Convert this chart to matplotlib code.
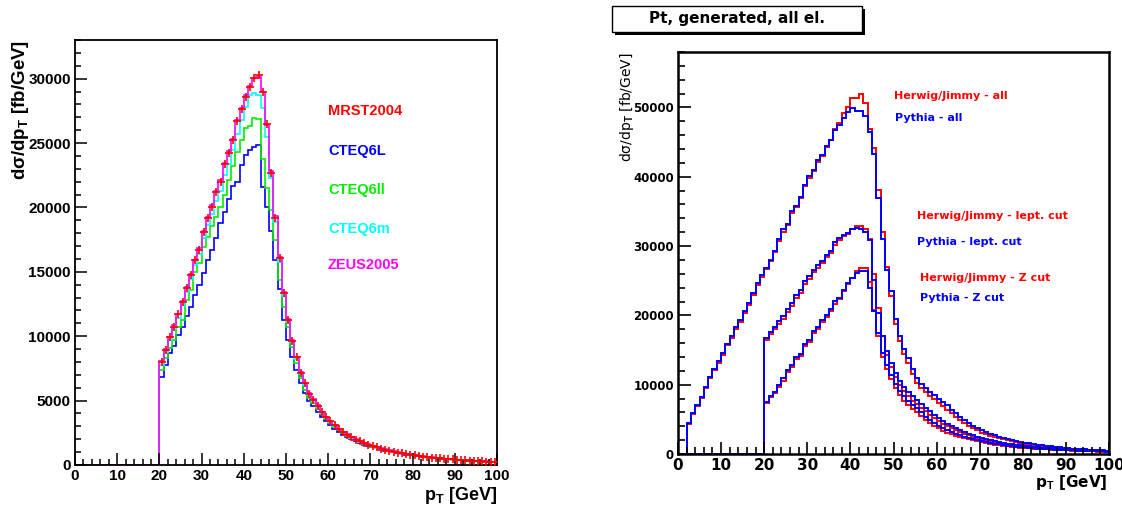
import numpy as np
import matplotlib
matplotlib.use('Agg')
import matplotlib.pyplot as plt
from matplotlib.ticker import MultipleLocator
from matplotlib.patches import Rectangle

W, H = 1122, 512
plt.rcParams['font.family'] = ['Liberation Sans', 'DejaVu Sans']
plt.rcParams['font.weight'] = 'bold'
plt.rcParams['mathtext.fontset'] = 'custom'
plt.rcParams['mathtext.rm'] = 'Liberation Sans:bold'
plt.rcParams['mathtext.it'] = 'Liberation Sans:bold'
plt.rcParams['mathtext.bf'] = 'Liberation Sans:bold'

# ---------------- data ----------------
pt_edges = np.arange(0, 101, 1)   # 1 GeV bins, 0..100 GeV

# Left panel (PDF sets), bins 0..99
mrst2004 = [0] * 20 + [
    7980, 8935, 9920, 10750, 11700, 12640, 13730, 14760, 15900, 16700,
    18120, 19190, 20050, 21210, 21990, 23390, 24240, 25250, 26730, 27660,
    28600, 29370, 30070, 30300, 28930, 26500, 22690, 19190, 16070, 13340,
    11270, 9660, 8370, 7170, 6350, 5520, 5050, 4600, 4100, 3700,
    3380, 3080, 2800, 2560, 2340, 2150, 1980, 1830, 1700, 1580,
    1470, 1370, 1280, 1190, 1110, 1040, 970, 910, 850, 800,
    750, 700, 660, 620, 580, 545, 515, 485, 455, 430,
    405, 380, 360, 340, 320, 300, 285, 270, 255, 240]
cteq6l = [0] * 20 + [
    6860, 7770, 8680, 9250, 10100, 10750, 11580, 12300, 13210, 14000,
    14900, 15900, 16700, 17610, 18780, 19680, 20640, 21630, 22010, 23310,
    24090, 24480, 24690, 24860, 21600, 20000, 18200, 15930, 13650, 11270,
    9710, 8420, 7380, 6350, 5570, 4950, 4550, 4150, 3750, 3400,
    3100, 2830, 2580, 2360, 2170, 2000, 1850, 1710, 1590, 1480,
    1380, 1290, 1200, 1120, 1050, 980, 920, 860, 810, 760,
    710, 670, 630, 590, 555, 520, 490, 460, 435, 410,
    385, 365, 345, 325, 305, 290, 275, 260, 245, 230]
cteq6ll = [0] * 20 + [
    7380, 8290, 9070, 9710, 10750, 11270, 12820, 13600, 15020, 15670,
    16960, 17740, 18520, 19290, 20070, 20980, 22140, 23180, 24340, 25250,
    26160, 26290, 26940, 26860, 23750, 21500, 19800, 17480, 14370, 12300,
    10750, 9190, 7900, 6740, 5830, 5200, 4780, 4380, 3950, 3560,
    3260, 2970, 2700, 2470, 2260, 2080, 1910, 1770, 1640, 1530,
    1420, 1320, 1230, 1150, 1070, 1000, 935, 875, 820, 770,
    720, 675, 635, 595, 560, 525, 495, 465, 440, 415,
    390, 365, 345, 325, 305, 290, 275, 260, 245, 230]
cteq6m = [0] * 20 + [
    7800, 8750, 9700, 10550, 11450, 12400, 13450, 14450, 15500, 16400,
    17600, 18600, 19500, 20500, 21300, 22550, 23400, 24450, 25700, 26800,
    27800, 28750, 28900, 28750, 27700, 25500, 22300, 18900, 15800, 13150,
    11100, 9550, 8250, 7100, 6250, 5450, 4980, 4520, 4050, 3650,
    3340, 3040, 2770, 2530, 2310, 2120, 1950, 1800, 1680, 1560,
    1450, 1350, 1260, 1170, 1090, 1020, 950, 890, 830, 780,
    730, 690, 650, 610, 570, 540, 505, 475, 450, 425,
    400, 375, 355, 335, 315, 295, 280, 265, 250, 235]
zeus2005 = [0] * 20 + [
    8050, 9000, 9950, 10850, 11750, 12750, 13800, 14850, 15950, 16850,
    18200, 19250, 20150, 21300, 22100, 23450, 24350, 25350, 26800, 27750,
    28700, 29450, 30050, 30100, 28950, 26400, 22800, 19300, 16150, 13400,
    11350, 9700, 8400, 7250, 6400, 5600, 5100, 4650, 4150, 3750,
    3420, 3110, 2830, 2590, 2370, 2170, 2000, 1850, 1720, 1600,
    1490, 1390, 1300, 1210, 1130, 1060, 990, 930, 870, 820,
    770, 720, 680, 640, 600, 565, 530, 500, 470, 445,
    420, 395, 375, 355, 335, 315, 300, 285, 270, 255]

# Right panel (generators), bins 0..99
pythia_all = [0] * 2 + [
    4520, 5880, 7080, 8280, 9730, 11080, 12240, 13440,
    14550, 15900, 17050, 18310, 19360, 20560, 21780, 23220, 24670, 25870,
    26840, 28030, 29230, 31020, 32470, 33240, 35020, 35840, 37090, 38870,
    40080, 40940, 42390, 43210, 44410, 45280, 46720, 47400, 48510, 49320,
    49960, 49470, 49470, 48740, 46430, 43350, 36990, 31000, 26590, 23460,
    19500, 17000, 15200, 13800, 12200, 10900, 10100, 9500, 9000, 8500,
    8000, 7500, 7000, 6400, 5900, 5400, 4900, 4500, 4100, 3750,
    3400, 3150, 2900, 2700, 2500, 2330, 2170, 2020, 1880, 1750,
    1630, 1520, 1420, 1330, 1240, 1160, 1090, 1020, 960, 900,
    840, 790, 740, 700, 660, 620, 590, 560, 530, 500]
herwig_all = [0] * 2 + [
    4400, 5800, 6900, 8100, 9500, 10900, 12100, 13200,
    14300, 15700, 16800, 18000, 19100, 20300, 21500, 22900, 24400, 25600,
    26700, 27900, 29100, 30800, 32100, 33000, 34800, 35600, 36900, 38700,
    39800, 40800, 42200, 43000, 44300, 45300, 46900, 47800, 49230, 50100,
    51400, 51300, 51880, 50680, 46820, 44180, 38050, 32000, 27000, 22800,
    18800, 16300, 14500, 13100, 11600, 10300, 9500, 8900, 8400, 7900,
    7400, 6900, 6400, 5900, 5400, 4950, 4500, 4100, 3750, 3400,
    3100, 2870, 2650, 2470, 2300, 2150, 2000, 1860, 1730, 1610,
    1500, 1400, 1310, 1220, 1140, 1070, 1000, 940, 880, 830,
    780, 730, 690, 650, 610, 580, 550, 520, 490, 460]
pythia_lept = [0] * 20 + [
    16720, 17530, 18300, 19120, 19840, 20910, 21770, 22980, 23600, 24900,
    25620, 26590, 27310, 27790, 28760, 29330, 30540, 31170, 31650, 31890,
    32470, 32620, 32470, 31990, 30900, 25100, 20300, 17000, 14800, 13100,
    11700, 10600, 9700, 8900, 8300, 7800, 7200, 6700, 6200, 5650,
    5200, 4800, 4400, 4050, 3750, 3450, 3200, 2950, 2700, 2500,
    2300, 2130, 1980, 1840, 1720, 1600, 1500, 1400, 1310, 1230,
    1160, 1090, 1030, 970, 910, 860, 810, 770, 730, 690,
    650, 620, 590, 560, 530, 500, 480, 455, 430, 410]
herwig_lept = [0] * 20 + [
    16500, 17300, 18000, 18800, 19500, 20500, 21400, 22500, 23200, 24500,
    25200, 26200, 26900, 27500, 28400, 29000, 30200, 30900, 31400, 31800,
    32500, 32950, 32950, 32400, 31000, 26000, 21000, 17000, 14300, 12500,
    11100, 10000, 9100, 8300, 7700, 7200, 6650, 6150, 5650, 5150,
    4750, 4350, 4000, 3680, 3400, 3130, 2890, 2670, 2460, 2270,
    2090, 1940, 1800, 1680, 1570, 1460, 1370, 1280, 1200, 1130,
    1060, 1000, 940, 890, 840, 790, 750, 710, 670, 630,
    600, 570, 540, 510, 490, 460, 440, 420, 400, 380]
pythia_z = [0] * 20 + [
    7560, 8380, 9000, 9970, 10930, 12140, 12860, 13970, 14450, 15900,
    16470, 17680, 18300, 19360, 20090, 20910, 22010, 22490, 23700, 24660,
    25380, 26110, 26350, 26350, 24000, 20570, 17440, 14550, 12900, 11400,
    10100, 9100, 8300, 7600, 7100, 6600, 6000, 5400, 4900, 4450,
    4050, 3700, 3400, 3150, 2900, 2680, 2480, 2300, 2130, 1970,
    1830, 1700, 1590, 1480, 1380, 1290, 1210, 1130, 1060, 1000,
    940, 890, 840, 790, 750, 710, 670, 640, 610, 580,
    550, 520, 495, 470, 445, 425, 405, 385, 365, 345]
herwig_z = [0] * 20 + [
    7400, 8200, 8800, 9700, 10600, 11800, 12600, 13700, 14200, 15600,
    16200, 17400, 18000, 19000, 19800, 20600, 21700, 22300, 23500, 24500,
    25400, 26400, 26830, 26830, 24800, 20800, 17000, 14000, 12300, 10800,
    9500, 8500, 7700, 7000, 6500, 6000, 5450, 4950, 4480, 4060,
    3700, 3380, 3100, 2870, 2650, 2450, 2270, 2100, 1950, 1810,
    1680, 1570, 1460, 1370, 1280, 1200, 1120, 1050, 990, 930,
    880, 830, 780, 740, 700, 660, 625, 595, 565, 535,
    510, 485, 460, 440, 420, 400, 380, 360, 345, 330]

left_labels = ['MRST2004', 'CTEQ6L', 'CTEQ6ll', 'CTEQ6m', 'ZEUS2005']
right_labels = ['Herwig/Jimmy - all', 'Pythia - all',
                'Herwig/Jimmy - lept. cut', 'Pythia - lept. cut',
                'Herwig/Jimmy - Z cut', 'Pythia - Z cut']

# ---------------- figure ----------------
fig = plt.figure(figsize=(W / 100, H / 100), dpi=100)
fig.patch.set_facecolor('white')


def fig_box(l, t, r, b):
    return [l / W, 1 - b / H, (r - l) / W, (b - t) / H]


def fx(x):
    return x / W


def fy(y):
    return 1 - y / H


axL = fig.add_axes(fig_box(75, 40, 497, 465))
axR = fig.add_axes(fig_box(678, 52, 1109, 454))

RED, BLUE, GREEN, CYAN, MAG = '#ff0000', '#0000ff', '#00ee00', '#00ffff', '#ff00ff'
lw = 1.2

# left
axL.stairs(cteq6l, pt_edges, color=BLUE, lw=lw, baseline=None)
axL.stairs(cteq6ll, pt_edges, color=GREEN, lw=lw, baseline=None)
axL.stairs(cteq6m, pt_edges, color=CYAN, lw=lw, baseline=None)
axL.stairs(zeus2005, pt_edges, color=MAG, lw=lw, baseline=None)
centers = (pt_edges[:-1] + pt_edges[1:]) / 2
axL.plot(centers[20:], mrst2004[20:], '+', color=RED, ms=6, mew=1.2, zorder=5)

axL.set_xlim(0, 100)
axL.set_ylim(0, 33000)
axL.xaxis.set_major_locator(MultipleLocator(10))
axL.xaxis.set_minor_locator(MultipleLocator(2))
axL.yaxis.set_major_locator(MultipleLocator(5000))
axL.yaxis.set_minor_locator(MultipleLocator(1000))
axL.tick_params(which='both', direction='in', top=False, right=False, width=1.1, colors='black')
axL.tick_params(which='major', length=8.5, labelsize=11, pad=3)
axL.tick_params(which='minor', length=4.5)
for s in axL.spines.values():
    s.set_linewidth(1.3)

# right
for h, p in [(herwig_all, pythia_all), (herwig_lept, pythia_lept), (herwig_z, pythia_z)]:
    axR.stairs(h, pt_edges, color=RED, lw=1.4, baseline=None)
    axR.stairs(p, pt_edges, color=BLUE, lw=1.4, baseline=None)

axR.set_xlim(0, 100)
axR.set_ylim(0, 58000)
axR.xaxis.set_major_locator(MultipleLocator(10))
axR.xaxis.set_minor_locator(MultipleLocator(2))
axR.yaxis.set_major_locator(MultipleLocator(10000))
axR.yaxis.set_minor_locator(MultipleLocator(2000))
axR.tick_params(which='both', direction='in', top=False, right=False, width=1.2, colors='black')
axR.tick_params(which='major', length=9, pad=3)
axR.tick_params(which='minor', length=5)
axR.tick_params(axis='x', labelsize=11)
axR.tick_params(axis='y', labelsize=8.5)
for s in axR.spines.values():
    s.set_linewidth(1.8)
for lbl in axR.get_xticklabels() + axR.get_yticklabels():
    lbl.set_fontfamily('DejaVu Sans')
    lbl.set_fontweight('bold')

# axis titles
fig.text(fx(21), fy(40), 'dσ/dp$_{T}$ [fb/GeV]', rotation=90, ha='center', va='top',
         fontsize=13.5, fontweight='bold', family=['Liberation Sans', 'DejaVu Sans'])
fig.text(fx(497), fy(496), 'p$_{T}$ [GeV]', ha='right', va='center',
         fontsize=13, fontweight='bold', family=['Liberation Sans', 'DejaVu Sans'])
fig.text(fx(627), fy(52), 'dσ/dp$_{T}$ [fb/GeV]', rotation=90, ha='center', va='top',
         fontsize=10, fontweight='normal', family=['DejaVu Sans'])
fig.text(fx(1108), fy(483), 'p$_{T}$ [GeV]', ha='right', va='center',
         fontsize=11, fontweight='bold', family=['DejaVu Sans'])

# left legend texts
left_colors = [RED, BLUE, GREEN, CYAN, MAG]
left_y = [111, 151, 190, 229, 265]
for lab, c, y in zip(left_labels, left_colors, left_y):
    fig.text(fx(328), fy(y), lab, color=c, fontsize=10.5, fontweight='bold',
             ha='left', va='center', family=['Liberation Sans'])

# right legend texts
right_colors = [RED, BLUE, RED, BLUE, RED, BLUE]
right_xy = [(894, 96), (895, 118), (917, 216), (917, 242), (920, 278), (920, 298)]
for lab, c, (x, y) in zip(right_labels, right_colors, right_xy):
    fig.text(fx(x), fy(y), lab, color=c, fontsize=8, fontweight='bold',
             ha='left', va='center', family=['DejaVu Sans'])

# title box with shadow
fig.patches.append(Rectangle((fx(615), fy(35)), (862 - 612) / W, 26 / H,
                             transform=fig.transFigure, facecolor='black',
                             edgecolor='black', lw=0, zorder=1))
fig.patches.append(Rectangle((fx(612), fy(32)), (862 - 612) / W, 26 / H,
                             transform=fig.transFigure, facecolor='white',
                             edgecolor='black', lw=1.0, zorder=2))
fig.text(fx(737), fy(19), 'Pt, generated, all el.', ha='center', va='center',
         fontsize=11, fontweight='bold', family=['DejaVu Sans'], zorder=3)

fig.savefig('out.png', dpi=100)
